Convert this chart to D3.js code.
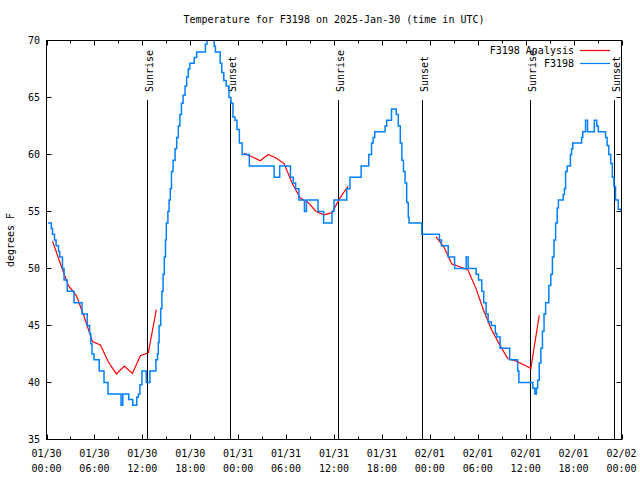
<!DOCTYPE html>
<html><head><meta charset="utf-8">
<script src="https://cdn.jsdelivr.net/npm/d3@7"></script>
<style>body{margin:0;background:#fff}svg{display:block}text{font-family:"DejaVu Sans Mono",monospace;font-size:10px;fill:#000}</style>
</head><body>
<script>
// Hours since 2025-01-30 00:00 UTC
const obsHours = [0.2,0.6,0.75,1.0,1.2,1.5,1.65,2.0,2.2,2.6,3.45,4.45,5.1,5.4,5.55,5.7,5.95,6.6,7.2,7.7,9.33,9.55,10.3,10.8,11.3,11.5,11.7,11.95,12.5,12.95,13.7,13.9,14.0,14.1,14.3,14.45,14.6,14.75,14.9,15.0,15.2,15.35,15.5,15.65,15.85,16.1,16.3,16.5,16.7,16.9,17.1,17.35,17.55,17.75,17.95,18.5,18.8,19.9,20.1,21.0,21.15,21.75,21.95,22.2,22.5,22.85,23.1,23.35,23.6,23.85,24.15,24.5,25.4,28.5,29.2,30.55,30.9,31.2,31.6,32.3,32.55,34.0,34.7,35.75,36.0,37.6,38.0,39.4,40.35,40.7,40.9,41.1,42.4,42.6,43.2,43.8,44.05,44.3,44.5,44.7,44.9,45.1,45.3,45.4,47.0,49.2,49.45,50.3,51.1,52.55,52.8,53.8,54.1,54.5,54.75,55.05,55.3,55.7,56.2,56.4,56.8,58.0,59.0,59.15,60.9,61.15,61.35,61.5,61.7,61.9,62.1,62.3,62.5,62.9,63.15,63.35,63.55,63.75,63.95,64.1,64.7,64.85,65.0,65.2,65.6,65.75,65.9,67.0,67.15,67.5,67.75,68.6,68.9,69.1,70.0,70.2,70.4,70.65,70.85,71.05,71.25,71.6,71.9,72.0];
const obsTemps = [54,53.5,53,52.5,52,51.5,51,50,49,48,47,46,45,44.3,43.4,42.5,42,41,40,39,38,39,38.5,38,38.7,39,39.8,41,40,41,42,42.5,43.5,45,46.5,48,49.5,51,52.5,54,55,56,57,58.5,59.5,60.5,61.5,62.5,63.5,64.5,65.2,66,66.8,67.5,68,68.5,69,69.7,71,69.5,69,68,67.2,66.5,66,65,64.5,63.3,63,62.2,61,60,59,58,59,58,57.5,57,56,55,56,55,54,55,56,57,58,59,60,61,61.5,62,62.5,63,64,63.5,62.5,61,59.5,58.5,57.5,55.8,54.5,54,53,52.5,52,51,50,51,50,49.5,49,48,47,46,45.3,45,44.3,44,43,42,41,40,39.5,39,39.5,40.2,41.7,43,44.5,46,47,48.5,49.5,51,52.5,54,55.3,56,56.5,57,58.5,59,60,60.5,61,61.5,62,63,62,63,62.5,62,61.5,60.8,60,59.2,58,57.2,56,55.2,55,55];
// Analysis runs (null separates runs)
const anaHours = [0.75,1.75,2.75,3.75,4.75,5.75,6.75,7.75,8.75,9.75,10.75,11.75,12.75,13.75,null,24.75,25.75,26.75,27.75,28.75,29.75,30.75,31.75,32.75,33.75,34.75,35.75,36.75,37.75,null,48.75,49.75,50.75,51.75,52.75,53.75,54.75,55.75,56.75,57.75,58.75,59.75,60.65,61.7];
const anaTemps = [52.4,50.4,48.5,47.6,45.7,43.6,43.3,41.8,40.75,41.45,40.8,42.35,42.6,46.4,null,60.1,59.8,59.45,60.0,59.7,59.2,57.5,56.2,55.8,55.0,54.7,54.9,56.2,57.2,null,52.8,51.9,50.4,50.15,49.9,48.3,46.3,44.6,43.3,42.1,41.9,41.55,41.25,45.9];
const sunHours = [12.56,22.95,36.44,47.0,60.52,71.04];
const sunLabels = ["Sunrise","Sunset","Sunrise","Sunset","Sunrise","Sunset"];
const xTickHours = [0,6,12,18,24,30,36,42,48,54,60,66,72];
const xTickDate = ["01/30","01/30","01/30","01/30","01/31","01/31","01/31","01/31","02/01","02/01","02/01","02/01","02/02"];
const xTickTime = ["00:00","06:00","12:00","18:00","00:00","06:00","12:00","18:00","00:00","06:00","12:00","18:00","00:00"];
const yTicks = [35,40,45,50,55,60,65,70];
const seriesNames = ["F3198 Analysis","F3198"];
const seriesColors = ["#ff0000","#0080ff"];

const W=640,H=480, L=46.5,R=621.5,T=40.5,B=439.5;
const svg=d3.select("body").append("svg").attr("width",W).attr("height",H);
const x=d3.scaleLinear().domain([0,72]).range([L,R]);
const y=d3.scaleLinear().domain([35,70]).range([B,T]);

svg.append("text").attr("x",334).attr("y",23).attr("text-anchor","middle").text("Temperature for F3198 on 2025-Jan-30 (time in UTC)");
svg.append("text").attr("transform","translate(14,240) rotate(-90)").attr("text-anchor","middle").text("degrees F");

svg.append("defs").append("clipPath").attr("id","c").append("rect").attr("x",L).attr("y",T).attr("width",R-L).attr("height",B-T);

// ticks
const g=svg.append("g").attr("stroke","#000").attr("stroke-width",1);
const minor=d3.range(3,72,6);
xTickHours.forEach(h=>{g.append("line").attr("x1",Math.round(x(h))+0.5).attr("x2",Math.round(x(h))+0.5).attr("y1",B).attr("y2",B-5);
 g.append("line").attr("x1",Math.round(x(h))+0.5).attr("x2",Math.round(x(h))+0.5).attr("y1",T).attr("y2",T+5);});
minor.forEach(h=>{g.append("line").attr("x1",Math.round(x(h))+0.5).attr("x2",Math.round(x(h))+0.5).attr("y1",B).attr("y2",B-3);
 g.append("line").attr("x1",Math.round(x(h))+0.5).attr("x2",Math.round(x(h))+0.5).attr("y1",T).attr("y2",T+3);});
yTicks.forEach(v=>{const yy=Math.round(y(v)-0.5)+0.5;
 g.append("line").attr("x1",L).attr("x2",L+5).attr("y1",yy).attr("y2",yy);
 g.append("line").attr("x1",R).attr("x2",R-5).attr("y1",yy).attr("y2",yy);
 svg.append("text").attr("x",40).attr("y",yy+3.5).attr("text-anchor","end").text(v);});
xTickHours.forEach((h,i)=>{
 svg.append("text").attr("x",x(h)).attr("y",457).attr("text-anchor","middle").text(xTickDate[i]);
 svg.append("text").attr("x",x(h)).attr("y",472).attr("text-anchor","middle").text(xTickTime[i]);});

// sun lines
sunHours.forEach((h,i)=>{const xx=Math.round(x(h))+0.5;
 g.append("line").attr("x1",xx).attr("x2",xx).attr("y1",100).attr("y2",B);
 svg.append("text").attr("transform",`translate(${xx+5},92) rotate(-90)`).text(sunLabels[i]);});

// series
const obs=obsHours.map((h,i)=>[h,obsTemps[i]]);
const ana=anaHours.map((h,i)=>[h,anaTemps[i]]);
const plot=svg.append("g").attr("clip-path","url(#c)");
plot.append("path").attr("d",d3.line().defined(d=>d[0]!=null).x(d=>x(d[0])).y(d=>y(d[1]))(ana))
 .attr("fill","none").attr("stroke",seriesColors[0]).attr("stroke-width",1.2);
plot.append("path").attr("d",d3.line().curve(d3.curveStepAfter).x(d=>x(d[0])).y(d=>y(d[1]))(obs))
 .attr("fill","none").attr("stroke",seriesColors[1]).attr("stroke-width",1.5);

// frame
svg.append("rect").attr("x",L).attr("y",T).attr("width",R-L).attr("height",B-T).attr("fill","none").attr("stroke","#000");

// legend
seriesNames.forEach((n,i)=>{const ly=50+i*13;
 svg.append("text").attr("x",574).attr("y",ly+3.5).attr("text-anchor","end").text(n);
 svg.append("line").attr("x1",580).attr("x2",610).attr("y1",ly+0.5).attr("y2",ly+0.5).attr("stroke",seriesColors[i]).attr("stroke-width",1.2);});
</script>
</body></html>
